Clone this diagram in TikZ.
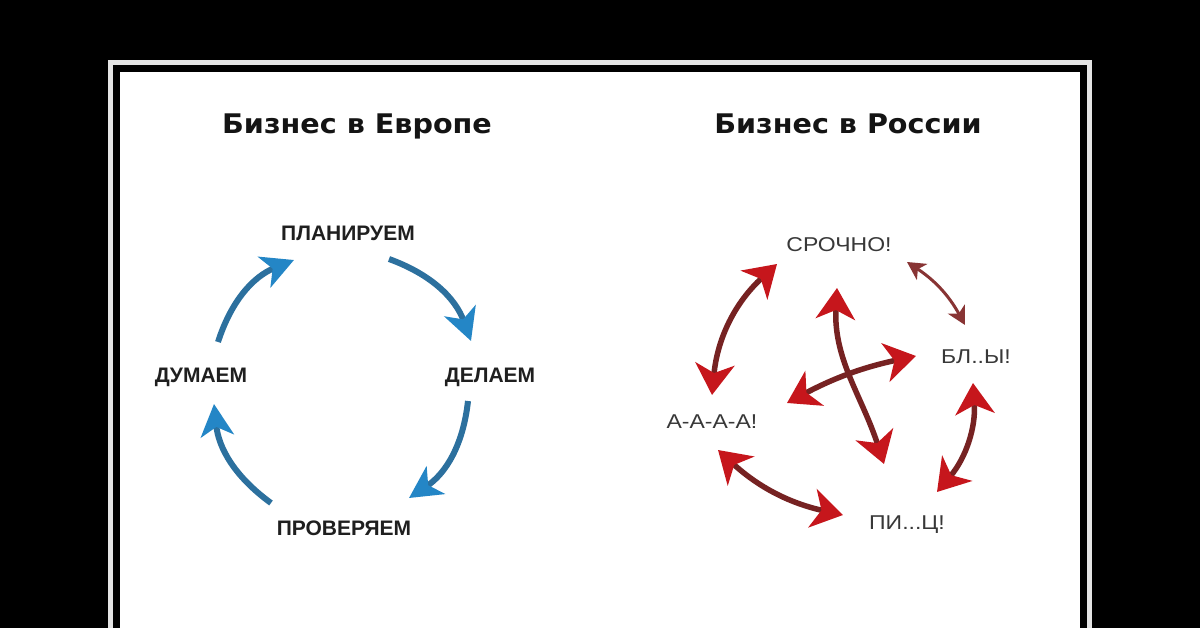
\documentclass[tikz,border=0pt]{standalone}
\usepackage{fontspec}
\setmainfont{Liberation Sans}
\newfontfamily\titlefont{DejaVu Sans}
\usetikzlibrary{arrows.meta}
\definecolor{bluehead}{RGB}{36,134,198}
\definecolor{blueshaft}{RGB}{44,112,158}
\definecolor{redhead}{RGB}{198,22,28}
\definecolor{redshaft}{RGB}{118,34,34}
\definecolor{smallred}{RGB}{136,52,52}
\definecolor{frameline}{RGB}{228,228,228}
\begin{document}
\begin{tikzpicture}[x=1pt,y=-1pt,
  titletext/.style={font=\titlefont\bfseries\fontsize{27}{27}\selectfont, text=black!92, inner sep=0pt, anchor=base, xscale=1.06},
  eulabel/.style={font=\bfseries\fontsize{21}{21}\selectfont, text=black!88, inner sep=0pt},
  rulabel/.style={font=\fontsize{20}{20}\selectfont, text=black!78, inner sep=0pt, xscale=1.15},
  bluetip/.style={-{Stealth[length=32pt,width=33pt,inset=9pt,color=bluehead]}},
  bluearrow/.style={draw=blueshaft, line width=6pt, bluetip},
  redarrow/.style={draw=redshaft, line width=5.5pt,
    {Stealth[length=31pt,width=39pt,inset=9pt,color=redhead]}-{Stealth[length=31pt,width=39pt,inset=9pt,color=redhead]}},
  smallarrow/.style={draw=smallred, line width=3pt,
    {Stealth[length=18pt,width=19pt,inset=5pt,color=smallred]}-{Stealth[length=18pt,width=19pt,inset=5pt,color=smallred]}}
]
\useasboundingbox (0,0) rectangle (1200,628);
% background and frame
\begin{scope}
  \clip (0,0) rectangle (1200,628);
  \fill[black] (0,0) rectangle (1200,628);
  \draw[frameline, line width=5pt] (110,700) -- (110,62.5) -- (1089.5,62.5) -- (1089.5,700);
  \fill[white] (120,72) rectangle (1080,700);
\end{scope}

% titles
\node[titletext] (t1) at (357,134) {Бизнес в Европе};
\node[titletext] (t2) at (848,134) {Бизнес в России};

% Europe labels
\node[eulabel] (plan) at (348,233) {ПЛАНИРУЕМ};
\node[eulabel] (dum) at (201,377) {ДУМАЕМ};
\node[eulabel] (del) at (490,377) {ДЕЛАЕМ};
\node[eulabel] (prov) at (344,528) {ПРОВЕРЯЕМ};

% Europe arrow end points
\coordinate (a1s) at (218,342);
\coordinate (a1e) at (294,260);
\coordinate (a2s) at (389,259);
\coordinate (a2e) at (471,341);
\coordinate (a3s) at (468,401);
\coordinate (a3e) at (409,498);
\coordinate (a4s) at (271,503);
\coordinate (a4e) at (214,404);

\draw[bluearrow] (a1s) to[bend left=25] (a1e);
\draw[bluearrow] (a2s) to[bend left=25] (a2e);
\draw[bluearrow] (a3s) to[bend left=25] (a3e);
\draw[bluearrow] (a4s) to[bend left=24] (a4e);

% Russia labels
\node[rulabel] (sro) at (839,245) {СРОЧНО!};
\node[rulabel] (bly) at (976,357) {БЛ..Ы!};
\node[rulabel] (aaa) at (712,422) {А-А-А-А!};
\node[rulabel] (pic) at (907,525) {ПИ...Ц!};

% Russia arrow end points
\coordinate (r1a) at (777,264);
\coordinate (r1b) at (712,395);
\coordinate (r2a) at (907,262);
\coordinate (r2b) at (965,325);
\coordinate (r3a) at (973,383);
\coordinate (r3b) at (937,492);
\coordinate (r4a) at (718,450);
\coordinate (r4b) at (843,515);
\coordinate (r5a) at (837,288);
\coordinate (r5b) at (884,464);
\coordinate (r6a) at (787,403);
\coordinate (r6b) at (916,356);

\draw[redarrow] (r1a) to[bend right=21] (r1b);
\draw[smallarrow] (r2a) to[bend left=14] (r2b);
\draw[redarrow] (r3a) to[bend left=22] (r3b);
\draw[redarrow] (r4a) to[bend right=15] (r4b);
\draw[redarrow] (r5a) to[out=-93, in=108] (r5b);
\draw[redarrow] (r6a) to[bend left=8] (r6b);
\end{tikzpicture}
\end{document}
